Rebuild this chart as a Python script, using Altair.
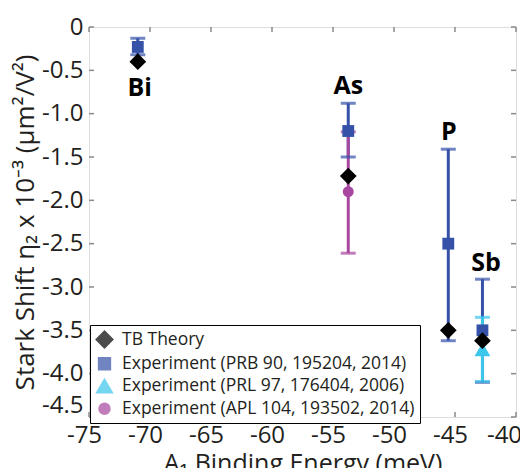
import altair as alt
import pandas as pd

# ---- data ----
series_names = ["TB Theory",
                "Experiment (PRB 90, 195204, 2014)",
                "Experiment (PRL 97, 176404, 2006)",
                "Experiment (APL 104, 193502, 2014)"]
series_colors = ["#000000", "#3551A8", "#3CC6EC", "#A8479F"]
series_shapes = ["diamond", "square", "triangle-up", "circle"]
series_sizes = [280, 140, 250, 120]

# TB theory
tb_x = [-71.0, -53.75, -45.55, -42.75]
tb_y = [-0.40, -1.72, -3.50, -3.62]
# PRB 90 experiment
prb_x = [-71.0, -53.75, -45.55, -42.75]
prb_y = [-0.23, -1.20, -2.50, -3.50]
prb_hi = [-0.13, -0.88, -1.41, -2.91]
prb_lo = [-0.32, -1.50, -3.62, -4.10]
# PRL 97 experiment
prl_x = [-42.75]
prl_y = [-3.72]
prl_hi = [-3.35]
prl_lo = [-4.09]
# APL 104 experiment
apl_x = [-53.75]
apl_y = [-1.90]
apl_hi = [-1.21]
apl_lo = [-2.61]

# element labels
label_text = ["Bi", "As", "P", "Sb"]
label_x = [-70.85, -53.75, -45.5, -42.45]
label_y = [-0.70, -0.68, -1.21, -2.72]

x_ticks = [-75, -70, -65, -60, -55, -50, -45, -40]
y_ticks = [0, -0.5, -1.0, -1.5, -2.0, -2.5, -3.0, -3.5, -4.0, -4.5]

W, H = 427, 390
FONT = "Open Sans"
TXT = "#231f20"

# ---- tables ----
pts = []
errs = []
groups = [
    (series_names[1], prb_x, prb_y, prb_lo, prb_hi),
    (series_names[2], prl_x, prl_y, prl_lo, prl_hi),
    (series_names[3], apl_x, apl_y, apl_lo, apl_hi),
]
order = 0
for name, xs, ys, los, his in groups:
    for x, y, lo, hi in zip(xs, ys, los, his):
        errs.append({"series": name, "x": x, "lo": lo, "hi": hi, "o": order})
        pts.append({"series": name, "x": x, "y": y, "o": order})
    order += 1
for x, y in zip(tb_x, tb_y):
    pts.append({"series": series_names[0], "x": x, "y": y, "o": 10})

pts_df = pd.DataFrame(pts)
err_df = pd.DataFrame(errs)
caps_df = pd.concat([
    err_df[["series", "x", "lo", "o"]].rename(columns={"lo": "y"}),
    err_df[["series", "x", "hi", "o"]].rename(columns={"hi": "y"}),
])
lab_df = pd.DataFrame({"t": label_text, "x": label_x, "y": label_y})

xscale = alt.Scale(domain=[-75, -40], nice=False, zero=False)
yscale = alt.Scale(domain=[-4.5, 0], nice=False, zero=False)
cscale = alt.Scale(domain=series_names, range=series_colors)

x_axis = alt.Axis(values=x_ticks, grid=False, ticks=False, domain=False,
                  labelExpr="'-' + format(abs(datum.value), 'd')",
                  labelFontSize=24, labelPadding=6,
                  labelOffset={"condition": {"test": "datum.value >= -40.5", "value": -12},
                               "value": -5},
                  labelFlush=False, titleFontSize=25,
                  titlePadding=4, labelColor=TXT, titleColor=TXT,
                  labelFont=FONT, titleFont=FONT, titleFontWeight="normal",
                  labelOverlap=False)
y_axis = alt.Axis(values=y_ticks, grid=False, ticks=False, domain=False,
                  labelExpr="datum.value == 0 ? '0' : '-' + format(abs(datum.value), '.1f')",
                  labelFontSize=24, labelPadding=6, labelFlush=False,
                  labelBaseline={"condition": {"test": "datum.value <= -4.4", "value": "bottom"},
                                 "value": "middle"},
                  titleFontSize=26,
                  titlePadding=3, labelColor=TXT, titleColor=TXT,
                  labelFont=FONT, titleFont=FONT, titleFontWeight="normal",
                  labelOverlap=False)
x_title = "A\u2081 Binding Energy (meV)"
y_title = "Stark Shift \u03b7\u2082 x 10\u207b\u00b3 (\u03bcm\u00b2/V\u00b2)"

rules = alt.Chart(err_df).mark_rule(strokeWidth=3).encode(
    x=alt.X("x:Q", scale=xscale, axis=x_axis, title=x_title),
    y=alt.Y("lo:Q", scale=yscale, axis=y_axis, title=y_title), y2="hi:Q",
    color=alt.Color("series:N", scale=cscale),
    order="o:Q",
)
caps = alt.Chart(caps_df).mark_tick(orient="horizontal", size=15, thickness=3).encode(
    x=alt.X("x:Q", scale=xscale), y=alt.Y("y:Q", scale=yscale),
    color=alt.Color("series:N", scale=cscale),
    order="o:Q",
)
points = alt.Chart(pts_df).mark_point(filled=True, opacity=1).encode(
    x=alt.X("x:Q", scale=xscale), y=alt.Y("y:Q", scale=yscale),
    color=alt.Color("series:N", scale=cscale, title=None,
                    legend=alt.Legend(orient="none", legendX=1, legendY=298,
                                      strokeColor="#000",
                                      fillColor="white", padding=5,
                                      labelFontSize=17.5, labelFont=FONT,
                                      labelColor=TXT, rowPadding=3,
                                      labelOffset=8, labelLimit=400,
                                      symbolOpacity=1)),
    shape=alt.Shape("series:N", scale=alt.Scale(domain=series_names, range=series_shapes), title=None),
    size=alt.Size("series:N", scale=alt.Scale(type="ordinal", domain=series_names, range=series_sizes), title=None),
    order="o:Q",
)
labels = alt.Chart(lab_df).mark_text(fontSize=25, fontWeight="bold", font=FONT,
                                      color="#000").encode(
    x=alt.X("x:Q", scale=xscale), y=alt.Y("y:Q", scale=yscale), text="t:N")

# inward ticks on all four sides
xt_df = pd.DataFrame({"x": x_ticks})
yt_df = pd.DataFrame({"y": y_ticks})
tick_style = dict(color="#8a8a8a", strokeWidth=1.5)
tb_ticks = alt.Chart(xt_df).mark_rule(**tick_style).encode(
    x=alt.X("x:Q", scale=xscale), y=alt.value(H), y2=alt.value(H - 5))
tt_ticks = alt.Chart(xt_df).mark_rule(**tick_style).encode(
    x=alt.X("x:Q", scale=xscale), y=alt.value(0), y2=alt.value(5))
lt_ticks = alt.Chart(yt_df).mark_rule(**tick_style).encode(
    y=alt.Y("y:Q", scale=yscale), x=alt.value(0), x2=alt.value(5))
rt_ticks = alt.Chart(yt_df).mark_rule(**tick_style).encode(
    y=alt.Y("y:Q", scale=yscale), x=alt.value(W), x2=alt.value(W - 5))

chart = alt.layer(
    rules, tb_ticks, tt_ticks, lt_ticks, rt_ticks, caps, points, labels
).properties(
    width=W, height=H,
    autosize=alt.AutoSizeParams(type="none"),
    padding={"left": 81, "top": 19, "right": 4, "bottom": 51},
).configure_view(stroke="#8a8a8a", strokeWidth=1.5
).configure_legend(strokeWidth=1.5
).configure(background="white")

chart.save("out.html", embed_options={"renderer": "svg", "actions": False})
